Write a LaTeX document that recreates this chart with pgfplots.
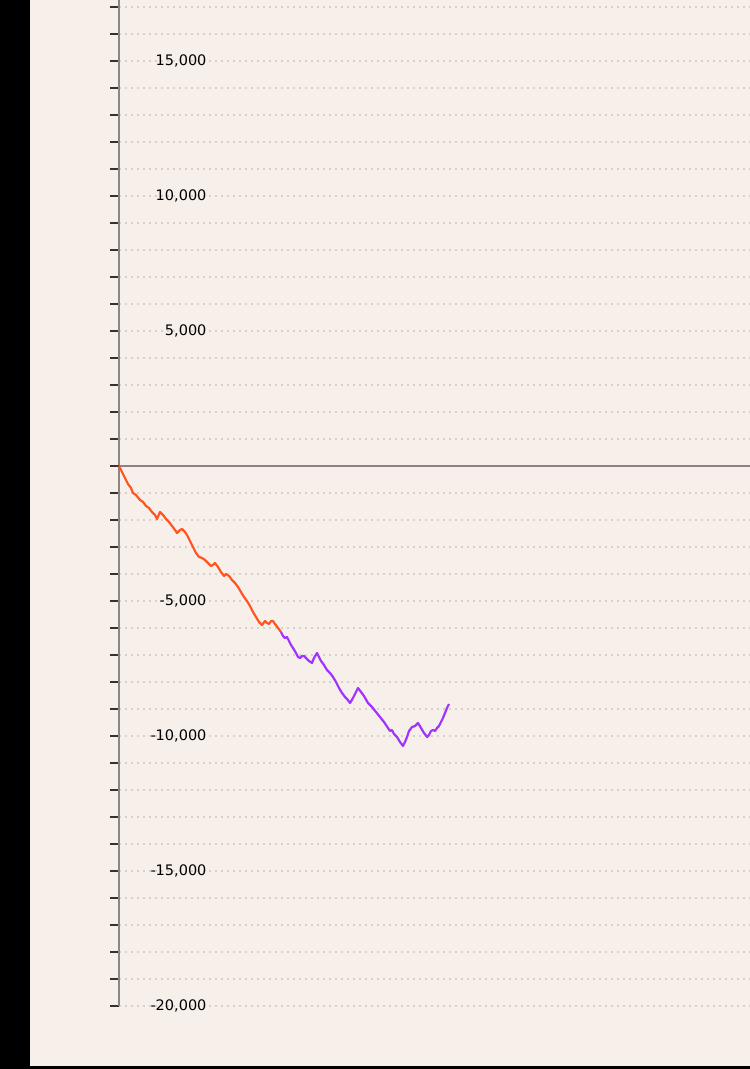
\documentclass[border=0pt]{standalone}
\usepackage{fontspec}
\setmainfont{DejaVu Sans}
\usepackage{pgfplots}
\pgfplotsset{compat=1.18}
\definecolor{bgc}{HTML}{F7EFE9}
\definecolor{gridc}{HTML}{D9D0CB}
\definecolor{axisc}{HTML}{8C8585}
\definecolor{zeroc}{HTML}{8C8282}
\definecolor{tickc}{HTML}{333333}
\definecolor{orangec}{HTML}{FF5522}
\definecolor{purplec}{HTML}{A033FF}
\begin{document}
\begin{tikzpicture}
\useasboundingbox (0,0) rectangle (750bp,1069bp);
\fill[black] (0,0) rectangle (750bp,1069bp);
\fill[bgc] (30bp,3bp) rectangle (750bp,1069bp);
\begin{axis}[
  at={(119bp,63bp)}, anchor=south west,
  scale only axis, width=631bp, height=1006bp,
  xmin=119, xmax=750, ymin=-20000, ymax=17259.26,
  axis x line=none, axis y line=left,
  y axis line style={-, draw=axisc, line width=2bp},
  ytick={-20000,-15000,-10000,-5000,5000,10000,15000},
  yticklabels={{-20,000},{-15,000},{-10,000},{-5,000},{5,000},{10,000},{15,000}},
  minor ytick={-19000,-18000,-17000,-16000,-14000,-13000,-12000,-11000,-9000,-8000,-7000,-6000,-4000,-3000,-2000,-1000,1000,2000,3000,4000,6000,7000,8000,9000,11000,12000,13000,14000,16000,17000},
  extra y ticks={0}, extra y tick labels={},
  extra y tick style={major grid style={solid, draw=zeroc, line width=2bp}},
  tick align=outside, major tick length=9bp, minor tick length=9bp,
  tick style={draw=tickc, line width=2bp},
  ymajorgrids, yminorgrids,
  major grid style={draw=gridc, line width=1.2bp, dash pattern=on 2bp off 4bp},
  minor grid style={draw=gridc, line width=1.2bp, dash pattern=on 2bp off 4bp},
  yticklabel style={anchor=east, xshift=100bp, font=\fontsize{14.5bp}{17bp}\selectfont, text=black},
  clip=false,
]
\addplot[orangec, line width=2.2bp, line join=round] coordinates {
(119,0) (121,-148) (124,-370) (128,-667) (131,-815) (133,-1000) (136,-1074) (140,-1259)
(143,-1333) (146,-1481) (149,-1556) (152,-1704) (155,-1815) (157,-1963) (160,-1704)
(163,-1815) (166,-1963) (169,-2074) (172,-2222) (175,-2370) (177,-2481) (180,-2370)
(182,-2333) (185,-2444) (187,-2556) (190,-2778) (193,-3000) (196,-3222) (199,-3370)
(202,-3407) (205,-3481) (208,-3593) (211,-3704) (213,-3667) (215,-3593) (218,-3741)
(221,-3926) (224,-4074) (226,-4000) (229,-4074) (232,-4222) (235,-4333) (238,-4481)
(241,-4667) (244,-4852) (247,-5000) (250,-5185) (253,-5407) (256,-5593) (259,-5778)
(262,-5889) (265,-5741) (267,-5815) (269,-5852) (271,-5741) (273,-5741) (275,-5852)
(278,-6000) (281,-6148)
};
\addplot[purplec, line width=2.2bp, line join=round] coordinates {
(281,-6148) (283,-6296) (285,-6370) (287,-6333) (289,-6481) (291,-6630) (293,-6741)
(296,-6926) (298,-7074) (300,-7111) (302,-7037) (304,-7037) (306,-7111) (309,-7222)
(312,-7296) (314,-7111) (317,-6926) (319,-7074) (321,-7222) (324,-7370) (327,-7556)
(330,-7667) (333,-7815) (336,-8000) (339,-8222) (342,-8407) (345,-8556) (347,-8630)
(350,-8778) (353,-8593) (356,-8370) (358,-8222) (361,-8370) (364,-8519) (368,-8778)
(372,-8926) (376,-9111) (380,-9296) (384,-9481) (388,-9704) (390,-9815) (392,-9778)
(394,-9926) (397,-10037) (400,-10222) (403,-10370) (405,-10222) (407,-10037) (409,-9815)
(412,-9667) (415,-9630) (418,-9519) (421,-9704) (424,-9889) (427,-10037) (429,-9963)
(431,-9815) (433,-9778) (435,-9815) (437,-9704) (439,-9630) (441,-9481) (443,-9333)
(445,-9148) (447,-8963) (449,-8815)
};
\end{axis}
\end{tikzpicture}
\end{document}
